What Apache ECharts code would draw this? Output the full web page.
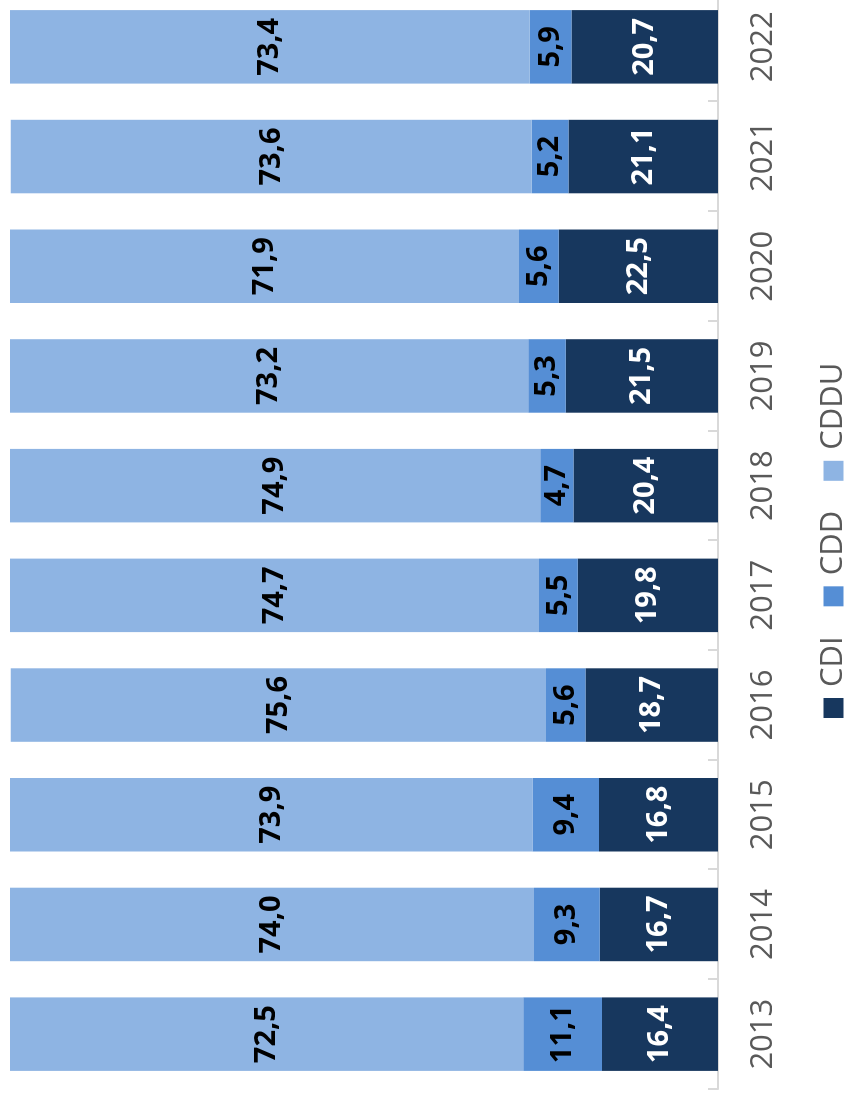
<!DOCTYPE html>
<html>
<head>
<meta charset="utf-8">
<script src="https://cdn.jsdelivr.net/npm/echarts@6/dist/echarts.min.js"></script>
<style>
  html, body { margin: 0; padding: 0; background: #fff; overflow: hidden; }
  /* the chart is drawn upright and the whole block turned a quarter turn */
  #chart {
    position: absolute; left: 0; top: 0;
    width: 1097px; height: 845px;
    transform-origin: 0 0;
    transform: translate(0, 1097px) rotate(-90deg);
  }
</style>
</head>
<body>
<div id="chart"></div>
<script>
var years = ['2013', '2014', '2015', '2016', '2017', '2018', '2019', '2020', '2021', '2022'];
var cdi  = [16.4, 16.7, 16.8, 18.7, 19.8, 20.4, 21.5, 22.5, 21.1, 20.7];
var cdd  = [11.1, 9.3, 9.4, 5.6, 5.5, 4.7, 5.3, 5.6, 5.2, 5.9];
var cddu = [72.5, 74.0, 73.9, 75.6, 74.7, 74.9, 73.2, 71.9, 73.6, 73.4];

var myChart = echarts.init(document.getElementById('chart'));

function fmt(p) {
    return p.value.toFixed(1).replace('.', ',');
}

function barLabel(color) {
    return {
        show: true,
        position: 'inside',
        formatter: fmt,
        color: color,
        fontFamily: 'Open Sans',
        fontWeight: 'bold',
        fontSize: 29
    };
}

var option = {
    animation: false,
    legend: {
        data: ['CDI', 'CDD', 'CDDU'],
        left: 379,
        top: 818,
        padding: 0,
        icon: 'rect',
        itemWidth: 20,
        itemHeight: 20,
        itemGap: 30,
        textStyle: {
            fontFamily: 'Open Sans',
            fontSize: 31,
            color: '#595959',
            padding: [0, 0, 0, 6]
        }
    },
    grid: {
        left: 8,
        width: 1097,
        top: 10,
        bottom: 127,
        outerBoundsMode: 'none'
    },
    xAxis: {
        type: 'category',
        data: years,
        axisLine: { show: true, lineStyle: { color: '#d9d9d9', width: 2 } },
        axisTick: {
            show: true,
            alignWithLabel: false,
            inside: true,
            length: 10,
            lineStyle: { color: '#d9d9d9', width: 2 }
        },
        axisLabel: {
            margin: 30,
            fontFamily: 'Open Sans',
            fontSize: 31,
            color: '#595959'
        }
    },
    yAxis: {
        type: 'value',
        min: 0,
        max: 100,
        show: false
    },
    series: [
        {
            name: 'CDI',
            type: 'bar',
            stack: 'Total',
            data: cdi,
            barCategoryGap: '33%',
            itemStyle: { color: '#17375e' },
            label: barLabel('#ffffff')
        },
        {
            name: 'CDD',
            type: 'bar',
            stack: 'Total',
            data: cdd,
            itemStyle: { color: '#558ed5' },
            label: barLabel('#000000')
        },
        {
            name: 'CDDU',
            type: 'bar',
            stack: 'Total',
            data: cddu,
            itemStyle: { color: '#8eb4e3' },
            label: barLabel('#000000')
        }
    ]
};

myChart.setOption(option);
</script>
</body>
</html>
